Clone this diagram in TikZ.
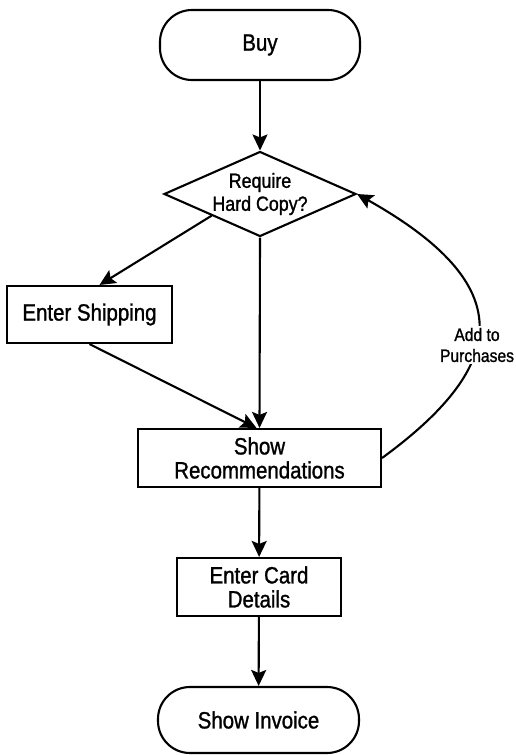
\documentclass[tikz,border=0pt]{standalone}
\usepackage{fontspec}
\setmainfont{Liberation Sans}[FakeStretch=0.87, FakeBold=1.2]
\usetikzlibrary{shapes.geometric,arrows.meta,calc}
\begin{document}
\begin{tikzpicture}[x=1pt,y=-1pt,
  every node/.style={font=\fontsize{23.5}{24}\selectfont, align=center, inner sep=0pt},
  base/.style={draw, line width=2.1pt},
  terminal/.style={base, rectangle, rounded corners=32pt},
  proc/.style={base, rectangle},
  decision/.style={base, diamond, aspect=2.26, minimum width=192pt, minimum height=85pt, font=\fontsize{20.5}{23}\selectfont},
  arr/.style={line width=2.1pt, -{Stealth[length=16pt,width=15pt,inset=3pt]}},
  lbl/.style={fill=white, font=\fontsize{18}{21}\selectfont, inner sep=2pt}]
\useasboundingbox (0,0) rectangle (516,755);
\node[terminal, minimum width=200pt, minimum height=70pt] (buy) at (260,45) {Buy};
\node[decision] (dia) at (260,194) {Require\\Hard Copy?};
\node[proc, minimum width=165pt, minimum height=57pt] (ship) at (89.5,314.5) {Enter Shipping};
\node[proc, minimum width=243pt, minimum height=58pt] (recs) at (259.5,458) {Show\\Recommendations};
\node[proc, minimum width=164pt, minimum height=58pt] (card) at (259,587) {Enter Card\\Details};
\node[terminal, minimum width=201pt, minimum height=66pt] (inv) at (258.5,720) {Show Invoice};
\draw[arr] (buy) -- (dia);
\draw[arr] (dia.south west) -- ([xshift=10pt]ship.north);
\draw[arr] (dia.south) -- (recs.north);
\draw[arr] (ship.south) -- ([xshift=-3pt]recs.north);
\draw[arr] (recs) -- (card);
\draw[arr] (card) -- (inv);
\draw[arr] (recs.east) .. controls +(130,-95) and +(160,90) .. (dia.east);
\node[lbl] (add) at (477,345) {Add to\\Purchases};
\end{tikzpicture}
\end{document}
